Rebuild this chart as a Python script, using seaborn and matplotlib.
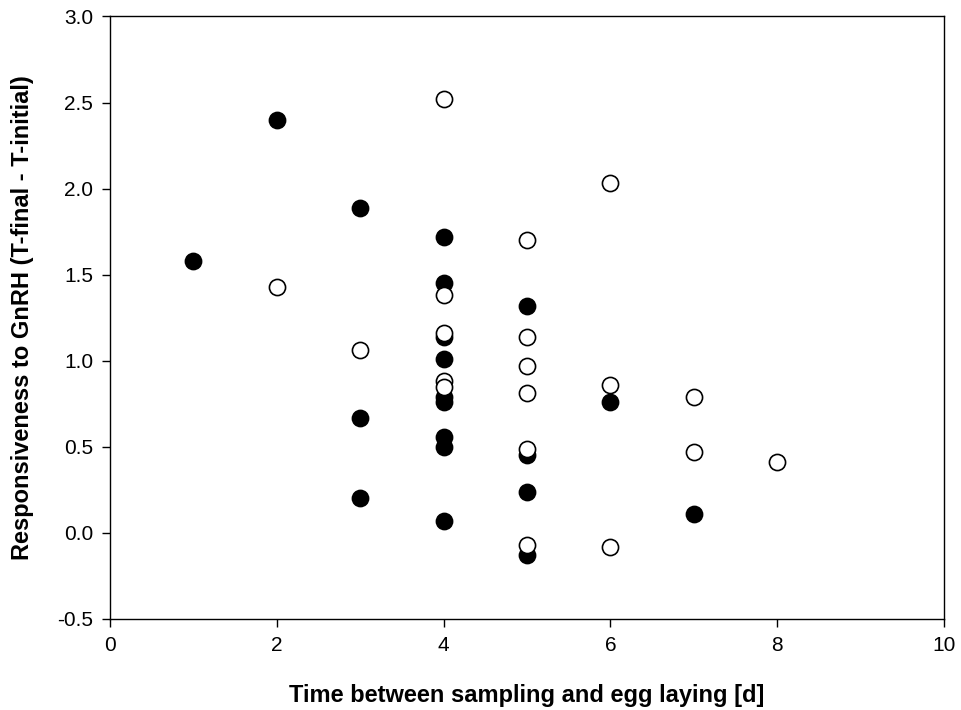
import numpy as np
import pandas as pd
import matplotlib
matplotlib.use("Agg")
import matplotlib.pyplot as plt
import seaborn as sns

# filled circles
filled_days = [1, 2, 3, 3, 3, 4, 4, 4, 4, 4, 4, 4, 4, 4, 5, 5, 5, 5, 6, 7]
filled_resp = [1.58, 2.40, 1.89, 0.67, 0.20,
               1.72, 1.45, 1.14, 1.01, 0.79, 0.76, 0.56, 0.50, 0.07,
               1.32, 0.45, 0.24, -0.13, 0.76, 0.11]

# open circles
open_days = [2, 3, 4, 4, 4, 4, 4, 5, 5, 5, 5, 5, 5, 6, 6, 6, 7, 7, 8]
open_resp = [1.43, 1.06, 2.52, 1.38, 1.16, 0.88, 0.85,
             1.70, 1.14, 0.97, 0.81, 0.49, -0.07,
             2.03, 0.86, -0.08, 0.79, 0.47, 0.41]

x_ticks = [0, 2, 4, 6, 8, 10]
y_ticks = [-0.5, 0.0, 0.5, 1.0, 1.5, 2.0, 2.5, 3.0]

sns.set_style("ticks")
plt.rcParams['font.family'] = ['Liberation Sans', 'DejaVu Sans']
plt.rcParams['text.color'] = 'black'
plt.rcParams['axes.labelcolor'] = 'black'

fig = plt.figure(figsize=(9.62, 7.10), dpi=100)
ax = fig.add_axes([0.1143, 0.1282, 0.867, 0.8486])

df_filled = pd.DataFrame({'days': filled_days, 'resp': filled_resp})
df_open = pd.DataFrame({'days': open_days, 'resp': open_resp})

sns.scatterplot(data=df_filled, x='days', y='resp', ax=ax, s=135,
                color='black', edgecolor='black', linewidth=1.2, zorder=3)
sns.scatterplot(data=df_open, x='days', y='resp', ax=ax, s=135,
                color='white', edgecolor='black', linewidth=1.2, zorder=4)

ax.set_xlim(0, 10)
ax.set_ylim(-0.5, 3.0)
ax.set_xticks(x_ticks)
ax.set_xticklabels([str(t) for t in x_ticks])
ax.set_yticks(y_ticks)
ax.set_yticklabels([f"{t:.1f}" for t in y_ticks])

for sp in ax.spines.values():
    sp.set_visible(True)
    sp.set_linewidth(1.0)
    sp.set_color('black')

ax.tick_params(direction='out', length=6, width=1.0, labelsize=15, pad=6,
               colors='black')

ax.set_xlabel("Time between sampling and egg laying [d]", fontsize=17,
              fontweight='bold', labelpad=21, color='black')
ax.set_ylabel("Responsiveness to GnRH (T-final - T-initial)", fontsize=17,
              fontweight='bold', labelpad=17, color='black')

fig.savefig("out.png", dpi=100)
